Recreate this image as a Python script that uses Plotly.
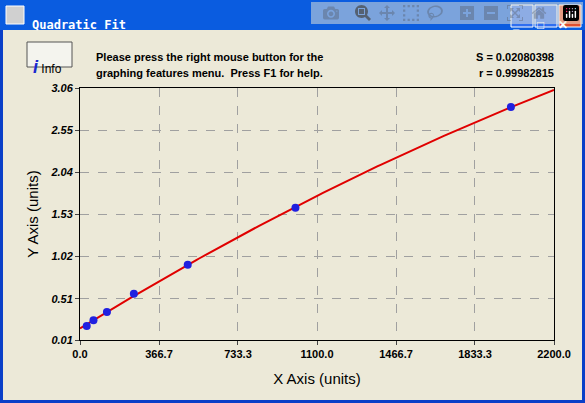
import numpy as np
import plotly.graph_objects as go

# data
x_data = [31.25, 62.5, 125, 250, 500, 1000, 2000]
y_data = [0.18, 0.25, 0.35, 0.57, 0.92, 1.61, 2.83]
x_ticks = [0.0, 366.7, 733.3, 1100.0, 1466.7, 1833.3, 2200.0]
y_ticks = [0.01, 0.51, 1.02, 1.53, 2.04, 2.55, 3.06]

W, H = 585, 403
L, R, T, B = 80, 554, 88, 340


def px(x):
    return (x - L) / (R - L)


def py(y):
    return (B - y) / (B - T)


coef = np.polyfit(x_data, y_data, 2)
x_fit = np.linspace(0, 2200, 200)
y_fit = np.polyval(coef, x_fit)

fig = go.Figure()
fig.add_trace(go.Scatter(x=x_fit, y=y_fit, mode='lines',
                         line=dict(color='#e00000', width=2), hoverinfo='skip'))
fig.add_trace(go.Scatter(x=x_data, y=y_data, mode='markers',
                         marker=dict(color='#2020e0', size=8)))

shapes = []


def rect(x0, y0, x1, y1, fill, line=None, lw=0):
    shapes.append(dict(type='rect', xref='paper', yref='paper', layer='below',
                       x0=px(x0), x1=px(x1), y0=py(y1), y1=py(y0),
                       fillcolor=fill, line=dict(color=line or fill, width=lw)))


rect(0, 0, W, H, '#0a3fc8')
rect(3, 30, W - 3, H - 3, '#ece9d8')
rect(0, 0, W, 30, '#0a5ce0')
rect(6, 6, 24, 24, '#d0d0d0', '#ffffff', 1)
for bx, col in [(511, '#2f6ef0'), (535, '#2f6ef0'), (559, '#e05030')]:
    rect(bx, 5, bx + 22, 27, col, '#ffffff', 1)
rect(27, 42, 72, 67, '#f4f4ee', '#555555', 1)

ann = [
    dict(x=px(30), y=py(16), text='<b>Quadratic Fit</b>', xanchor='left',
         font=dict(family='DejaVu Sans Mono', size=12, color='white')),
    dict(x=px(522), y=py(16), text='<b>_</b>', font=dict(size=11, color='white')),
    dict(x=px(546), y=py(16), text='<b>□</b>', font=dict(size=12, color='white')),
    dict(x=px(570), y=py(16), text='<b>✕</b>', font=dict(size=12, color='white')),
    dict(x=px(31), y=py(55), text='<b><i><span style="color:#1a2ad0;font-size:18px">i</span></i></b> Info',
         xanchor='left', font=dict(family='Liberation Sans', size=12, color='black')),
    dict(x=px(94), y=py(49), text='<b>Please press the right mouse button for the</b>',
         xanchor='left', font=dict(family='Liberation Sans', size=11, color='black')),
    dict(x=px(94), y=py(65), text='<b>graphing features menu.  Press F1 for help.</b>',
         xanchor='left', font=dict(family='Liberation Sans', size=11, color='black')),
    dict(x=px(556), y=py(49), text='<b>S = 0.02080398</b>', xanchor='right',
         font=dict(family='Liberation Sans', size=11, color='black')),
    dict(x=px(556), y=py(65), text='<b>r = 0.99982815</b>', xanchor='right',
         font=dict(family='Liberation Sans', size=11, color='black')),
]
for a in ann:
    a.update(xref='paper', yref='paper', showarrow=False)

fig.update_layout(
    width=W, height=H, margin=dict(l=L, r=W - R, t=T, b=H - B),
    paper_bgcolor='#ece9d8', plot_bgcolor='white', showlegend=False,
    shapes=shapes, annotations=ann,
    font=dict(family='Liberation Sans', color='black'),
    xaxis=dict(range=[0, 2200], tickvals=x_ticks, ticktext=['<b>%.1f</b>' % v for v in x_ticks],
               showgrid=True, gridcolor='#a0a0a0', griddash='dash', zeroline=False,
               showline=True, linecolor='black', mirror=True, ticks='outside', ticklen=4,
               tickfont=dict(size=11),
               title=dict(text='X Axis (units)', font=dict(size=15), standoff=14)),
    yaxis=dict(range=[0.01, 3.06], tickvals=y_ticks, ticktext=['<b><i>%.2f</i></b>' % v for v in y_ticks],
               showgrid=True, gridcolor='#a0a0a0', griddash='dash', zeroline=False,
               showline=True, linecolor='black', mirror=True, ticks='outside', ticklen=4,
               tickfont=dict(size=11),
               title=dict(text='Y Axis (units)', font=dict(size=15), standoff=8)),
)

fig.write_html("out.html", post_script="document.body.style.margin='0px';")
